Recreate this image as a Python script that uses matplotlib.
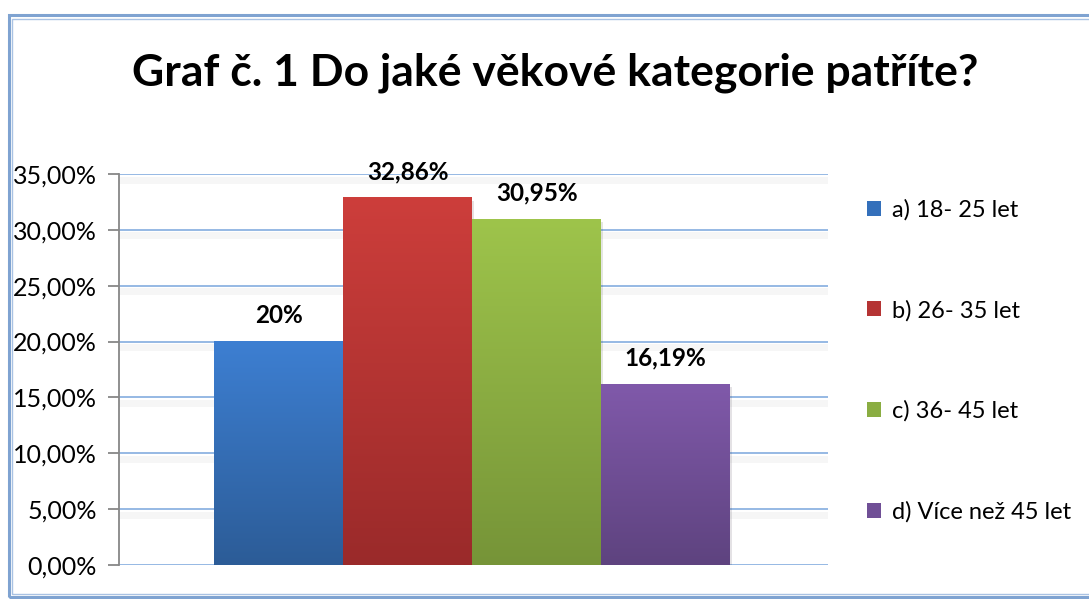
import numpy as np
import matplotlib.pyplot as plt
import matplotlib.patheffects as pe
from matplotlib.patches import Rectangle
from matplotlib.colors import LinearSegmentedColormap

# Data
labels = ['a) 18- 25 let', 'b) 26- 35 let', 'c) 36- 45 let', 'd) Více než 45 let']
values = [20.0, 32.86, 30.95, 16.19]
value_text = ['20%', '32,86%', '30,95%', '16,19%']
top_colors = ['#3d7fd2', '#cd3e3b', '#9ec44b', '#8059aa']
bottom_colors = ['#2c5c97', '#9a2a2a', '#769438', '#5e437f']
mid_colors = ['#3470bb', '#b53434', '#8aad42', '#704f96']
yticks = [0, 5, 10, 15, 20, 25, 30, 35]

plt.rcParams['font.family'] = ['Lato', 'DejaVu Sans']

fig = plt.figure(figsize=(10.89, 5.99), dpi=100)
W, H = 1089, 599

# chart frame (double light blue border, runs off right edge)
def fx(px):
    return px / W

def fy(py):
    return 1 - py / H

fig.patches.append(Rectangle((fx(9), fy(597)), fx(1100) - fx(9), fy(15) - fy(597),
                             transform=fig.transFigure, fill=False,
                             edgecolor='#7fa3d1', linewidth=2.2))
fig.patches.append(Rectangle((fx(12.5), fy(594)), fx(1100) - fx(12.5), fy(18.5) - fy(594),
                             transform=fig.transFigure, fill=False,
                             edgecolor='#a9c2e3', linewidth=1.0))

ax = fig.add_axes([fx(119), fy(565), fx(828) - fx(119), fy(174) - fy(565)])

x = np.arange(len(values))
bars = ax.bar(x, values, width=1.0, color=mid_colors, zorder=2,
              path_effects=[pe.withSimplePatchShadow(offset=(1.5, -2), alpha=0.12)])

# vertical gradient fill for each bar
for b, c_top, c_bot in zip(bars, top_colors, bottom_colors):
    cmap = LinearSegmentedColormap.from_list('g', [c_bot, c_top])
    grad = np.linspace(0, 1, 256).reshape(-1, 1)
    ax.imshow(grad, cmap=cmap, origin='lower', aspect='auto', zorder=3,
              extent=(b.get_x(), b.get_x() + b.get_width(), 0, b.get_height()))

for xi, v, t in zip(x, values, value_text):
    ax.text(xi, v + 1.3, t, ha='center', va='bottom', fontsize=17.5,
            fontweight='bold', color='black', zorder=5)

ax.set_xlim(-0.5 - 0.74, 3.5 + 0.76)
ax.set_ylim(0, 35)
ax.set_yticks(yticks)
ax.set_yticklabels([f'{t:.2f}'.replace('.', ',') + '%' for t in yticks], fontsize=18)
ax.set_xticks([])

ax.grid(axis='y', color='#8db3e2', linewidth=1.3, zorder=1,
        path_effects=[pe.SimpleLineShadow(offset=(0, -4), shadow_color='#000000',
                                          alpha=0.035, linewidth=5), pe.Normal()])
ax.set_axisbelow(True)
for s in ['top', 'right', 'bottom']:
    ax.spines[s].set_visible(False)
ax.spines['left'].set_color('#878787')
ax.spines['left'].set_linewidth(1.3)
ax.tick_params(axis='y', direction='out', length=8, width=1.3, color='#878787',
               pad=8, labelcolor='black')

handles = [Rectangle((0, 0), 1, 1, facecolor=c) for c in mid_colors]
fig.legend(handles, labels, loc='upper left', bbox_to_anchor=(fx(867), fy(199)),
           frameon=False, fontsize=17, labelspacing=3.35, handlelength=0.6,
           handleheight=0.6, handletextpad=0.45, borderpad=0, borderaxespad=0)

fig.text(fx(555), fy(73), 'Graf č. 1 Do jaké věkové kategorie patříte?',
         ha='center', va='center', fontsize=32, fontweight='bold')

fig.savefig('out.png', dpi=100, facecolor='white')
